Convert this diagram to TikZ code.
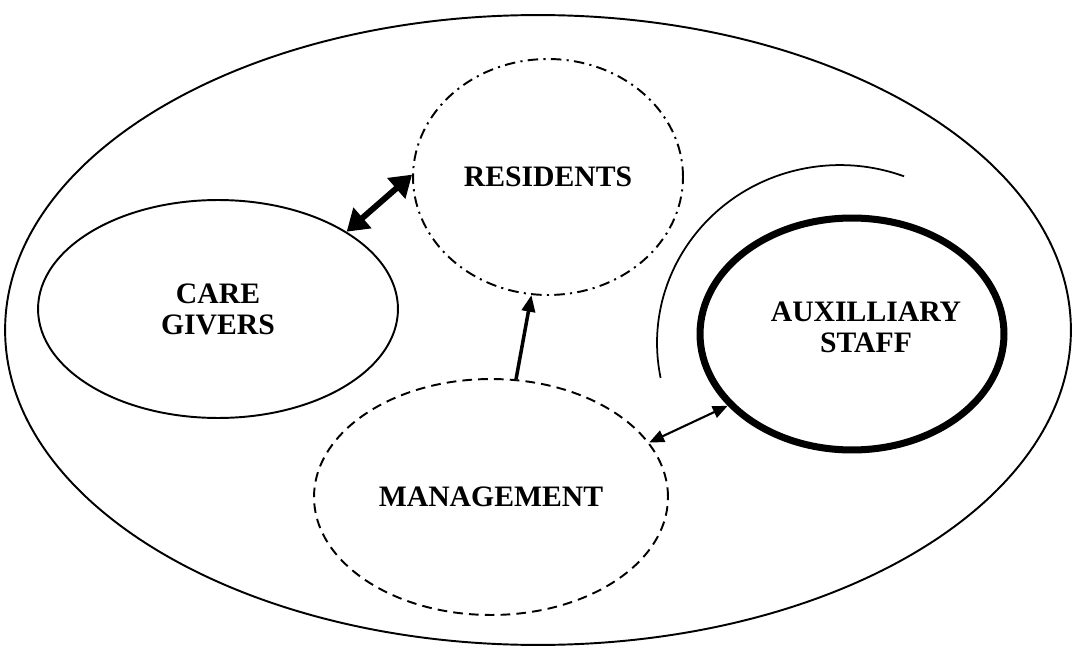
\documentclass[tikz,border=0pt]{standalone}
\usepackage{fontspec}
\setmainfont{Liberation Serif}
\usetikzlibrary{shapes.geometric,arrows.meta}
\begin{document}
\begin{tikzpicture}[x=0.02cm,y=-0.02cm,
  lbl/.style={font=\bfseries\fontsize{16.9}{17.6}\selectfont,align=center},
  blob/.style={ellipse,draw,inner sep=0pt,lbl},
  dashdot/.style={dash pattern=on 6pt off 3pt on 1.2pt off 3pt},
  dsh/.style={dash pattern=on 5.5pt off 3.5pt}]
\useasboundingbox (0,0) rectangle (1077,648);
\node[blob,line width=1.1pt,minimum width=21.32cm,minimum height=12.6cm] (outer) at (538,330) {};
\node[blob,line width=1.1pt,dashdot,minimum width=5.4cm,minimum height=4.72cm] (res) at (548,177) {RESIDENTS};
\node[blob,line width=1.1pt,minimum width=7.2cm,minimum height=4.36cm] (cg) at (218,309) {CARE\\GIVERS};
\node[blob,line width=4pt,minimum width=6.08cm,minimum height=4.64cm] (aux) at (852,334) {};
\node[lbl] (auxlbl) at (866,327.5) {AUXILLIARY\\STAFF};
\node[blob,line width=1.1pt,dsh,minimum width=7.08cm,minimum height=4.72cm] (mgmt) at (491,497) {MANAGEMENT};
\coordinate (arcstart) at (660.6,377.9);
\draw[line width=1pt] (arcstart) arc[start angle=191.3,end angle=69.5,x radius=3.66cm,y radius=3.56cm];
\draw[line width=3.4pt,{Triangle[length=12pt,width=15pt]}-{Triangle[length=12pt,width=15pt]}] (cg.31) -- (res.179);
\draw[line width=2pt,-{Triangle[length=9.5pt,width=7.5pt]}] (mgmt.78) -- (res.262);
\draw[line width=1.2pt,{Triangle[length=8.5pt,width=7pt]}-{Triangle[length=8.5pt,width=7pt]}] (mgmt.19) -- (aux.210);
\end{tikzpicture}
\end{document}
